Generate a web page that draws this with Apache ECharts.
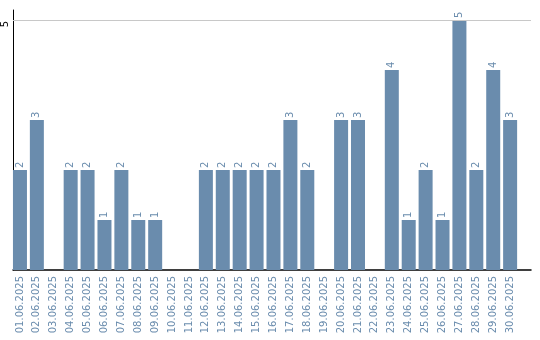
<!DOCTYPE html>
<html>
<head>
<meta charset="utf-8">
<script src="https://cdn.jsdelivr.net/npm/echarts@6/dist/echarts.min.js"></script>
<style>html,body{margin:0;padding:0;background:#fff}#c{width:540px;height:340px}</style>
</head>
<body>
<div id="c"></div>
<script>
var categories = ['01.06.2025','02.06.2025','03.06.2025','04.06.2025','05.06.2025','06.06.2025','07.06.2025','08.06.2025','09.06.2025','10.06.2025','11.06.2025','12.06.2025','13.06.2025','14.06.2025','15.06.2025','16.06.2025','17.06.2025','18.06.2025','19.06.2025','20.06.2025','21.06.2025','22.06.2025','23.06.2025','24.06.2025','25.06.2025','26.06.2025','27.06.2025','28.06.2025','29.06.2025','30.06.2025'];
var values = [2,3,0,2,2,1,2,1,1,0,0,2,2,2,2,2,3,2,0,3,3,0,4,1,2,1,5,2,4,3];
var yTickLabels = [5];

var color = '#6a8cad';
var idx = categories.map(function(_, i){ return i; });
var chart = echarts.init(document.getElementById('c'), null, {renderer: 'canvas'});
chart.setOption({
  animation: false,
  grid: {left: 10, right: 9, top: 10, bottom: 70, containLabel: false},
  xAxis: {
    type: 'value',
    min: -7/17,
    max: (521 - 7) / 17,
    axisLine: {show: true, onZero: false, lineStyle: {color: '#000', width: 1.5}},
    axisTick: {show: false},
    splitLine: {show: false},
    axisLabel: {
      customValues: idx,
      rotate: 90,
      margin: 6,
      color: color,
      fontSize: 10,
      fontFamily: 'DejaVu Sans',
      formatter: function(v){ return categories[Math.round(v)] || ''; }
    }
  },
  yAxis: {
    type: 'value',
    min: 0,
    max: 5.2,
    axisLine: {show: true, onZero: false, lineStyle: {color: '#000', width: 1}},
    axisTick: {show: false},
    splitLine: {show: false},
    axisLabel: {
      customValues: yTickLabels,
      rotate: 90,
      margin: 3,
      padding: [0, 8, 0, 0],
      color: '#000',
      fontSize: 10,
      fontFamily: 'DejaVu Sans'
    }
  },
  series: [{
    type: 'bar',
    barWidth: 14,
    data: values.map(function(v, i){ return [i, v]; }),
    itemStyle: {color: color},
    label: {
      show: true,
      position: 'top',
      rotate: 90,
      align: 'left',
      verticalAlign: 'middle',
      distance: 2,
      color: color,
      fontSize: 10,
      fontFamily: 'DejaVu Sans',
      formatter: function(p){ return p.value[1] ? String(p.value[1]) : ''; }
    },
    markLine: {
      silent: true,
      symbol: 'none',
      label: {show: false},
      lineStyle: {color: '#c8c8c8', width: 1, type: 'solid'},
      data: [{yAxis: yTickLabels[0]}]
    }
  }]
});
</script>
</body>
</html>
